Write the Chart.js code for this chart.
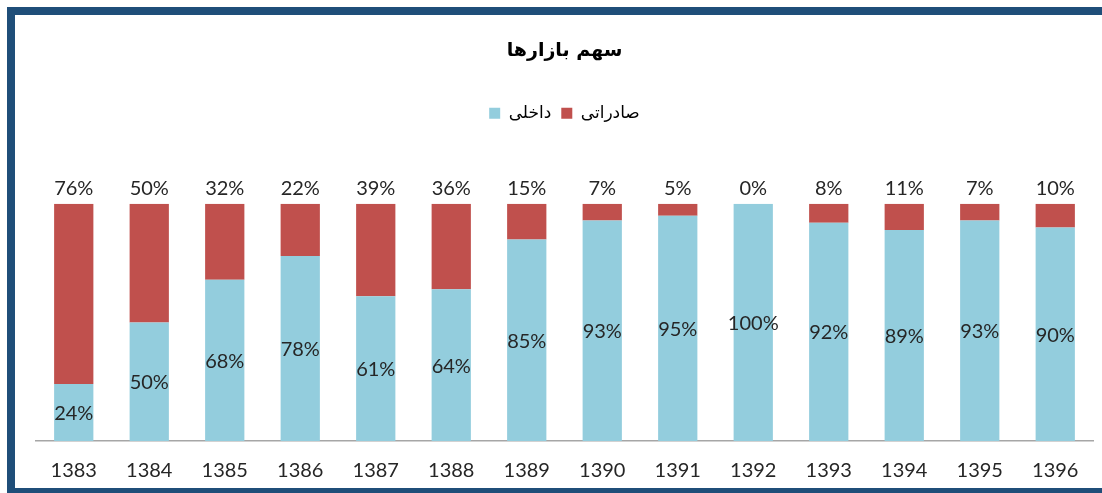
<!DOCTYPE html>
<html>
<head>
<meta charset="utf-8">
<script src="https://cdn.jsdelivr.net/npm/chart.js@4.4.1/dist/chart.umd.min.js"></script>
<style>
    html, body { margin: 0; padding: 0; background: #fff; }
    body { width: 1102px; height: 493px; position: relative; overflow: hidden; }
    #chart-wrap { position: absolute; left: 0; top: 0; width: 1102px; height: 493px; }
    .frame {
        position: absolute; left: 7px; top: 7px; width: 1110px; height: 473px;
        border: 8px solid #1F4E79; pointer-events: none;
    }
</style>
</head>
<body>
<div id="chart-wrap"><canvas id="market-chart"></canvas></div>
<div class="frame"></div>
<script>
const years = ['1383', '1384', '1385', '1386', '1387', '1388', '1389', '1390', '1391', '1392', '1393', '1394', '1395', '1396'];
const domesticShare = [24, 50, 68, 78, 61, 64, 85, 93, 95, 100, 92, 89, 93, 90];
const exportShare = [76, 50, 32, 22, 39, 36, 15, 7, 5, 0, 8, 11, 7, 10];

const numberFont = 'Lato, "Open Sans", sans-serif';
const arabicFont = '"DejaVu Sans", sans-serif';

// Draw the percentage labels: blue inside the segment, red above the bar
const barLabels = {
    id: 'barLabels',
    afterDatasetsDraw(chart) {
        const ctx = chart.ctx;
        ctx.save();
        ctx.font = '20px ' + numberFont;
        ctx.fillStyle = '#262626';
        ctx.textAlign = 'center';
        chart.data.datasets.forEach((ds, di) => {
            const meta = chart.getDatasetMeta(di);
            meta.data.forEach((bar, i) => {
                const text = ds.data[i] + '%';
                if (di === 0) {
                    ctx.textBaseline = 'middle';
                    ctx.fillText(text, bar.x, (bar.y + bar.base) / 2 + 1);
                } else {
                    ctx.textBaseline = 'alphabetic';
                    ctx.fillText(text, bar.x, bar.y - 9);
                }
            });
        });
        ctx.restore();
    }
};

// Extra room between legend and the bars
const legendGap = {
    id: 'legendGap',
    beforeInit(chart) {
        const fit = chart.legend.fit;
        chart.legend.fit = function () {
            fit.call(this);
            this.height += 72;
        };
    }
};

new Chart(document.getElementById('market-chart'), {
    type: 'bar',
    data: {
        labels: years,
        datasets: [
            {
                label: 'داخلی',
                data: domesticShare,
                backgroundColor: '#93CDDD'
            },
            {
                label: 'صادراتی',
                data: exportShare,
                backgroundColor: '#C0504D'
            }
        ]
    },
    options: {
        responsive: true,
        maintainAspectRatio: false,
        animation: false,
        layout: { padding: { top: 21, left: 36, right: 9, bottom: 0 } },
        datasets: {
            bar: { categoryPercentage: 1, barPercentage: 0.52 }
        },
        plugins: {
            title: {
                display: true,
                text: 'سهم بازارها',
                color: '#000',
                font: { family: arabicFont, size: 19, weight: 'bold' },
                padding: { top: 19, bottom: 32 }
            },
            legend: {
                display: true,
                position: 'top',
                labels: {
                    boxWidth: 11,
                    boxHeight: 11,
                    padding: 10,
                    color: '#000',
                    font: { family: arabicFont, size: 17 }
                }
            },
            tooltip: { enabled: false }
        },
        scales: {
            x: {
                stacked: true,
                grid: { display: false, drawTicks: false },
                border: { display: true, color: '#A6A6A6', width: 1.5 },
                ticks: {
                    color: '#262626',
                    padding: 18,
                    font: { family: numberFont, size: 20 }
                },
                afterFit(scale) {
                    scale.height = 52;
                }
            },
            y: {
                stacked: true,
                display: false,
                min: 0,
                max: 100
            }
        }
    },
    plugins: [barLabels, legendGap]
});
</script>
</body>
</html>
